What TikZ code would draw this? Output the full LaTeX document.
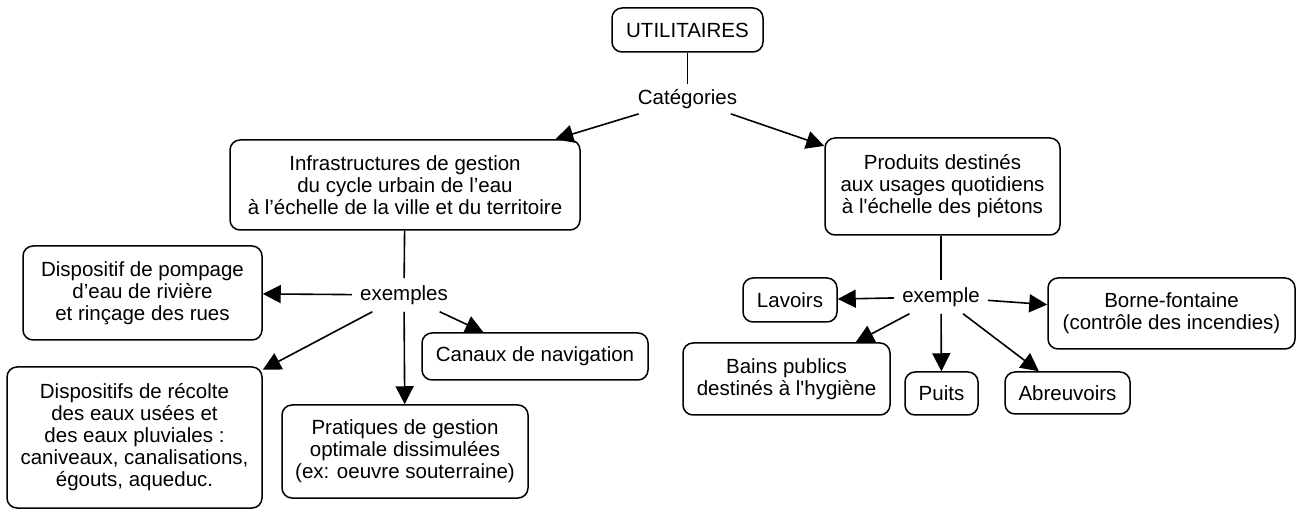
\documentclass[tikz,border=0pt]{standalone}
\usepackage{fontspec}
\setmainfont{Liberation Sans}
\usetikzlibrary{arrows.meta}
\begin{document}
\begin{tikzpicture}[x=1pt,y=-1pt,
  every node/.style={font=\fontsize{20.5}{22}\selectfont, align=center},
  cbox/.style={draw, line width=1.5pt, rounded corners=10pt, inner sep=0pt, anchor=center},
  lbl/.style={inner xsep=8pt, inner ysep=7pt},
  conn/.style={line width=1.6pt},
  arr/.style={line width=1.6pt, -{Triangle[length=18pt,width=18pt]}}
]
\useasboundingbox (0,0) rectangle (1299,510);
\node[cbox, minimum width=151pt, minimum height=44pt] (util) at (687.5,30) {UTILITAIRES};
\node[lbl, inner ysep=5pt] (cat) at (687.5,99) {Catégories};
\node[cbox, minimum width=350pt, minimum height=90pt] (infra) at (405,185)
  {Infrastructures de gestion\\du cycle urbain de l’eau\\à l’échelle de la ville et du territoire};
\node[cbox, minimum width=235pt, minimum height=97pt] (prod) at (942.5,186.5)
  {Produits destinés\\aux usages quotidiens\\à l\textquotesingle échelle des piétons};
\node[lbl] (ex1) at (404,295) {exemples};
\node[cbox, minimum width=239pt, minimum height=94pt] (pomp) at (142.5,293)
  {Dispositif de pompage\\d’eau de rivière\\et rinçage des rues};
\node[cbox, minimum width=255pt, minimum height=141pt] (recol) at (134.5,437.5)
  {Dispositifs de récolte\\des eaux usées et\\des eaux pluviales :\\caniveaux, canalisations,\\égouts, aqueduc.};
\node[cbox, minimum width=226pt, minimum height=47pt] (canaux) at (535,356.5) {Canaux de navigation};
\node[cbox, minimum width=246pt, minimum height=93pt] (prat) at (405,451.5)
  {Pratiques de gestion\\optimale dissimulées\\(ex: oeuvre souterraine)};
\node[lbl] (ex2) at (941,297) {exemple};
\node[cbox, minimum width=94pt, minimum height=44pt] (lav) at (790,300) {Lavoirs};
\node[cbox, minimum width=207pt, minimum height=72pt] (bains) at (786.5,379)
  {Bains publics\\destinés à l\textquotesingle hygiène};
\node[cbox, minimum width=73pt, minimum height=43pt] (puits) at (941.5,393.5) {Puits};
\node[cbox, minimum width=125pt, minimum height=42pt] (abr) at (1067.5,393) {Abreuvoirs};
\node[cbox, minimum width=247pt, minimum height=71pt] (borne) at (1171.5,313.5)
  {Borne-fontaine\\(contrôle des incendies)};

\draw[conn] (util) -- (cat);
\draw[arr] (cat) -- (infra);
\draw[arr] (cat) -- (prod);
\draw[conn] (infra) -- (ex1);
\draw[arr] (ex1) -- (pomp);
\draw[arr] (ex1) -- (recol);
\draw[arr] (ex1) -- (canaux);
\draw[arr] (ex1) -- (prat);
\draw[conn] (prod.south -| ex2) -- (ex2);
\draw[arr] (ex2) -- (lav);
\draw[arr] (ex2) -- (bains);
\draw[arr] (ex2) -- (puits);
\draw[arr] (ex2) -- (abr);
\draw[arr] (ex2) -- (borne);
\end{tikzpicture}
\end{document}
